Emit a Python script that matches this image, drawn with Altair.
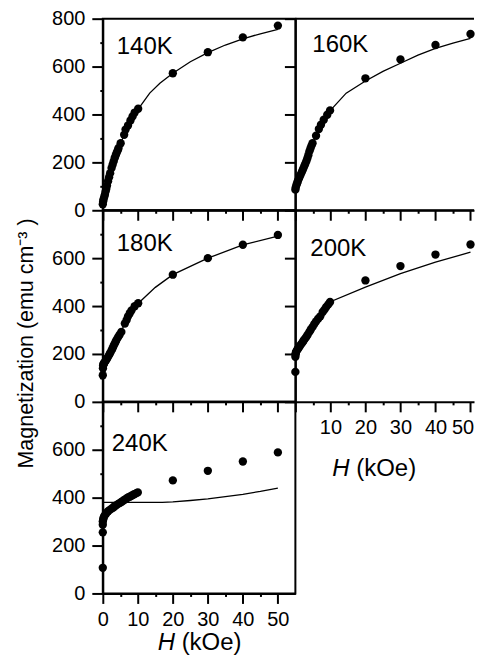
import altair as alt
import pandas as pd

FONT = "Liberation Sans"

# ---- data (H in kOe, M in emu cm^-3) ----
H_140 = [0.0, 0.1, 0.2, 0.4, 0.6, 0.8, 1.0, 1.2, 1.5, 1.8, 2.1, 2.5, 2.8, 3.1, 3.4, 3.7, 4.0, 4.3, 4.5,
         5.1, 6.1, 6.5, 7.2, 7.9, 8.5, 9.1, 10.1, 20, 30, 40, 50]
M_140 = [25, 37, 45, 55, 65, 78, 90, 103, 121, 138, 155, 176, 190, 204, 218, 230, 241, 251, 260,
         280, 315, 337, 354, 375, 392, 408, 424, 572, 660, 722, 771]
FH_140 = [0, 1, 2, 3, 4, 5, 6, 8, 10, 13.4, 16.3, 20, 25, 30, 35, 40, 45, 50]
FM_140 = [25, 88, 150, 205, 245, 278, 310, 372, 420, 489, 530, 572, 620, 658, 690, 716, 737, 755]

H_160 = [0.0, 0.1, 0.3, 0.5, 0.7, 1.0, 1.3, 1.6, 1.9, 2.2, 2.5, 2.8, 3.1, 3.4, 3.7, 4.0, 4.3, 4.6, 4.9,
         5.9, 6.7, 7.3, 8.1, 9.1, 9.9, 20, 30, 40, 50]
M_160 = [86, 95, 105, 113, 121, 132, 142, 152, 162, 172, 183, 193, 204, 216, 230, 246, 258, 270, 280,
         311, 339, 357, 378, 399, 417, 551, 630, 690, 736]
FH_160 = [0, 1, 2, 3, 4, 5, 6, 8, 10, 14.5, 20, 25, 30, 35, 40, 45, 50]
FM_160 = [86, 130, 168, 205, 245, 282, 312, 370, 417, 489, 540, 580, 614, 648, 676, 698, 718]

H_180 = [0.0, 0.05, 0.1, 0.2, 0.4, 0.6, 0.9, 1.2, 1.5, 1.8, 2.1, 2.5, 2.8, 3.1, 3.4, 3.7, 4.0, 4.4, 4.8,
         5.3, 6.3, 6.8, 7.2, 7.7, 8.2, 9.1, 10.1, 20, 30, 40, 50]
M_180 = [111, 140, 153, 158, 163, 167, 173, 180, 188, 196, 204, 215, 224, 234, 243, 252, 261, 271, 280,
         292, 327, 342, 357, 370, 382, 399, 412, 531, 600, 656, 697]
FH_180 = [0, 1, 2, 3, 4, 5, 6, 7, 8, 10, 15, 20, 30, 40, 50]
FM_180 = [100, 145, 188, 226, 258, 287, 318, 348, 375, 410, 478, 531, 600, 655, 692]

H_200 = [0.0, 0.0, 0.05, 0.1, 0.2, 0.4, 0.6, 0.8, 1.1, 1.4, 1.7, 2.1, 2.4, 2.7, 3.1, 3.5, 4.0, 4.4, 4.9,
         5.4, 5.9, 6.5, 7.1, 7.8, 8.3, 8.8, 9.4, 9.9, 20, 30, 40, 50]
M_200 = [125, 188, 198, 203, 208, 214, 219, 223, 229, 236, 242, 250, 257, 263, 271, 280, 292, 302, 313,
         325, 336, 347, 357, 375, 385, 396, 407, 417, 507, 567, 615, 657]
FH_200 = [0, 1, 2, 3, 4, 5, 6, 7, 8, 10, 20, 30, 40, 50]
FM_200 = [190, 222, 246, 268, 290, 312, 333, 354, 375, 418, 479, 535, 583, 625]

H_240 = [0.0, 0.0, 0.0, 0.0, 0.1, 0.2, 0.4, 0.7, 1.0, 1.5, 2.0, 2.5, 3.0, 3.4, 3.9, 4.4, 4.9, 5.3, 5.8,
         6.3, 6.8, 7.2, 7.7, 8.2, 8.7, 9.1, 9.6, 10, 20, 30, 40, 50]
M_240 = [107, 255, 287, 300, 308, 315, 322, 329, 335, 343, 349, 354, 359, 364, 369, 374, 378, 382, 387,
         392, 397, 401, 404, 408, 412, 415, 419, 422, 472, 512, 551, 589]
FH_240 = [0, 17, 20, 25, 30, 35, 40, 45, 50]
FM_240 = [380, 380, 382, 388, 395, 404, 414, 426, 440]

LABELS = ["140K", "160K", "180K", "200K", "240K"]
Y_TITLE = "Magnetization (emu cm\u207b\u00b3 )"
X_TITLE_ITALIC = "H"
X_TITLE_REST = "(kOe)"

H_PANEL = 192
W_LEFT, W_RIGHT = 193, 179
XDOM_LEFT, XDOM_RIGHT = [0, 55], [0, 51.0]


def tick_cond(step, major, minor):
    return {"condition": {"test": f"datum.value % {step} === 0", "value": major}, "value": minor}


def panel(label, h, m, fh, fm, lab_pos, right, top_row, xlabels, ylabels, ytitle=False, xtitle=None):
    W = W_RIGHT if right else W_LEFT
    xdom = XDOM_RIGHT if right else XDOM_LEFT
    yvals = list(range(0, 801, 100)) if top_row else list(range(0, 701, 100))
    yaxis_kw = dict(values=yvals, tickSize=tick_cond(200, 11, 3), labelPadding=7, grid=False,
                    labelOverlap=False, labelFontSize=20, labelFont=FONT, labelColor="black",
                    domainColor="black", domainWidth=2, tickColor="black", tickWidth=2)
    if ylabels:
        yaxis_kw["labelExpr"] = "datum.value % 200 === 0 ? datum.label : ''"
    else:
        yaxis_kw["labels"] = False
    if ytitle:
        yaxis_kw.update(title=Y_TITLE, titleFontSize=21.5, titleFont=FONT, titleFontWeight="normal",
                        titleAngle=-90, titleBaseline="alphabetic", titleAlign="center",
                        titleX=-70, titleY=133, titleColor="black")
        ytit = Y_TITLE
    else:
        ytit = None
    xaxis_kw = dict(values=list(range(0, 51, 5)), tickSize=tick_cond(10, 10, 3), labelPadding=6, grid=False,
                    labelOverlap=False, labelFlush=False, labelFontSize=20, labelFont=FONT, labelColor="black",
                    domainColor="black", domainWidth=2, tickColor="black", tickWidth=2)
    if xlabels == "all":
        xaxis_kw["labelExpr"] = "datum.value % 10 === 0 ? datum.label : ''"
    elif xlabels == "nozero":
        xaxis_kw["labelExpr"] = "datum.value % 10 === 0 && datum.value > 0 ? datum.label : ''"
        # keep the last label inside the page edge
        xaxis_kw["labelOffset"] = {"condition": {"test": "datum.value === 50", "value": -8}, "value": 0}
    else:
        xaxis_kw["labels"] = False

    x = alt.X("H:Q", scale=alt.Scale(domain=xdom, nice=False, zero=False), axis=alt.Axis(**xaxis_kw), title=None)
    y = alt.Y("M:Q", scale=alt.Scale(domain=[0, 800], nice=False), axis=alt.Axis(**yaxis_kw), title=ytit)

    pts = alt.Chart(pd.DataFrame({"H": h, "M": m})).mark_circle(size=70, color="black", opacity=1).encode(x=x, y=y)
    fit = alt.Chart(pd.DataFrame({"H": fh, "M": fm})).mark_line(color="black", strokeWidth=1.3).encode(x=x, y=y)
    lab = alt.Chart(pd.DataFrame({"t": [label]})).mark_text(
        align="left", baseline="alphabetic", fontSize=24, font=FONT, color="black"
    ).encode(text="t:N", x=alt.value(lab_pos[0]), y=alt.value(lab_pos[1]))
    layers = [fit, pts, lab]
    if right:
        top = alt.Chart(pd.DataFrame({"M": [800]})).mark_rule(color="black", strokeWidth=2).encode(
            y=alt.Y("M:Q"), x=alt.value(0), x2=alt.value(W))
        layers.append(top)
    if xtitle is not None:
        xt, yt = xtitle
        t1 = alt.Chart(pd.DataFrame({"t": [X_TITLE_ITALIC]})).mark_text(
            align="left", baseline="alphabetic", fontSize=24, font=FONT, fontStyle="italic", color="black"
        ).encode(text="t:N", x=alt.value(xt), y=alt.value(H_PANEL + yt))
        t2 = alt.Chart(pd.DataFrame({"t": [X_TITLE_REST]})).mark_text(
            align="left", baseline="alphabetic", fontSize=24, font=FONT, color="black"
        ).encode(text="t:N", x=alt.value(xt + 24), y=alt.value(H_PANEL + yt))
        layers += [t1, t2]
    ch = alt.layer(*layers).properties(width=W, height=H_PANEL)
    if right:
        ch = ch.properties(view=alt.ViewBackground(strokeOpacity=0))
    return ch


p140 = panel(LABELS[0], H_140, M_140, FH_140, FM_140, (14, 35), False, True, "none", True)
p160 = panel(LABELS[1], H_160, M_160, FH_160, FM_160, (17, 33), True, True, "none", False)
p180 = panel(LABELS[2], H_180, M_180, FH_180, FM_180, (14, 41), False, False, "none", True, ytitle=True)
p200 = panel(LABELS[3], H_200, M_200, FH_200, FM_200, (15, 46), True, False, "nozero", False, xtitle=(37, 74))
p240 = panel(LABELS[4], H_240, M_240, FH_240, FM_240, (9, 49), False, False, "all", True, xtitle=(55, 57))

chart = alt.ConcatChart(
    concat=[p140, p160, p180, p200, p240], columns=2, spacing=0, bounds="flush"
).properties(
    padding={"left": 6, "top": -1, "right": 0, "bottom": 0}
).configure(
    background="white"
).configure_view(
    stroke="black", strokeWidth=2
).configure_axis(
    labelFont=FONT, labelFontSize=20, labelColor="black",
    domainColor="black", domainWidth=2, tickColor="black", tickWidth=2,
)

chart.save("out.html", embed_options={"renderer": "svg", "actions": False})
